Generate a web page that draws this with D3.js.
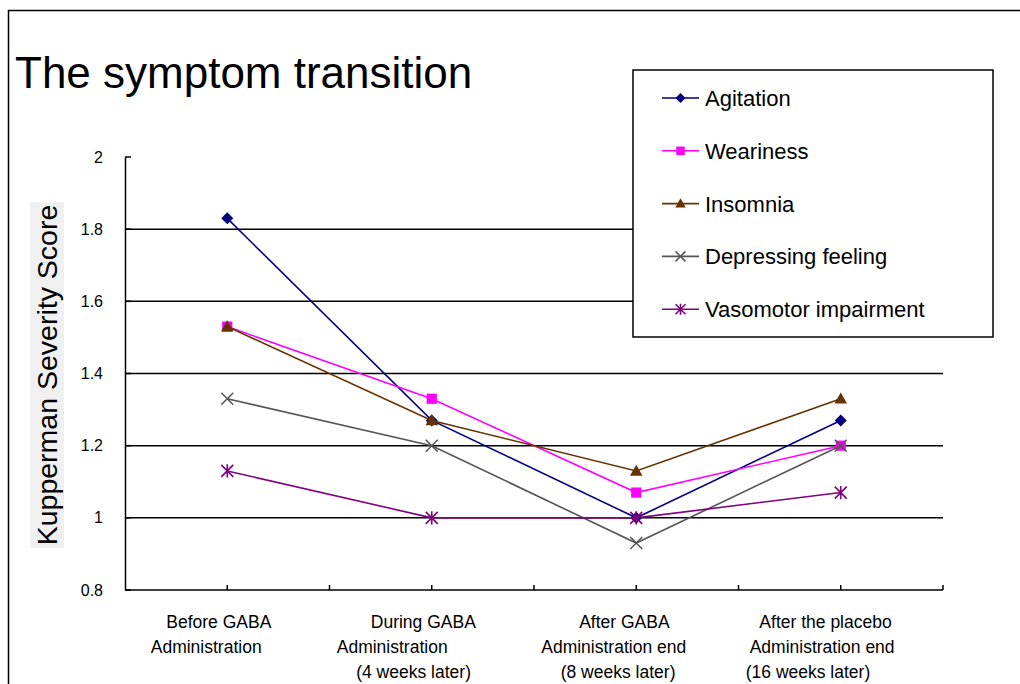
<!DOCTYPE html>
<html>
<head>
<meta charset="utf-8">
<script src="https://cdn.jsdelivr.net/npm/d3@7/dist/d3.min.js"></script>
<style>
  html, body { margin: 0; padding: 0; background: #fff; }
  svg { display: block; font-family: "Liberation Sans", Arial, sans-serif; }
</style>
</head>
<body>
<svg id="chart" width="1020" height="684"></svg>
<script>
// ---- data ----
const categories = ["Before GABA Administration", "During GABA Administration (4 weeks later)",
  "After GABA Administration end (8 weeks later)", "After the placebo Administration end (16 weeks later)"];
const categoryLines = [
  ["       Before GABA", "    Administration"],
  ["       During GABA", "Administration", "    (4 weeks later)"],
  ["        After GABA", "Administration end", "    (8 weeks later)"],
  ["   After the placebo", " Administration end", "(16 weeks later)"]
];
const seriesNames = ["Agitation", "Weariness", "Insomnia", "Depressing feeling", "Vasomotor impairment"];
const agitation  = [1.83, 1.27, 1.00, 1.27];
const weariness  = [1.53, 1.33, 1.07, 1.20];
const insomnia   = [1.53, 1.27, 1.13, 1.33];
const depressing = [1.33, 1.20, 0.93, 1.20];
const vasomotor  = [1.13, 1.00, 1.00, 1.07];
const yTicks = [0.8, 1, 1.2, 1.4, 1.6, 1.8, 2];
const yTickLabels = ["0.8", "1", "1.2", "1.4", "1.6", "1.8", "2"];

const seriesValues = [agitation, weariness, insomnia, depressing, vasomotor];
const colors = ["#000080", "#FF00FF", "#663300", "#555555", "#800080"];
const markers = ["diamond", "square", "triangle", "cross", "asterisk"];

// ---- layout ----
const svg = d3.select("#chart");
const pL = 125, pR = 943, pT = 157, pB = 590;

const x = d3.scaleBand().domain(d3.range(categories.length)).range([pL, pR]).padding(0);
const cx = i => x(i) + x.bandwidth() / 2;
const y = d3.scaleLinear().domain([0.8, 2]).range([pB, pT]);

// outer frame (top + left)
svg.append("path").attr("d", "M8.5,684 V10.5 H1020").attr("fill", "none")
  .attr("stroke", "#000").attr("stroke-width", 1.5);

// title
svg.append("text").attr("x", 15).attr("y", 88).attr("font-size", 44).attr("fill", "#000")
  .text("The symptom transition");

// gridlines
svg.append("g").selectAll("line").data(yTicks.filter(v => v > 0.8 && v < 2)).join("line")
  .attr("x1", pL).attr("x2", pR).attr("y1", d => y(d)).attr("y2", d => y(d))
  .attr("stroke", "#000").attr("stroke-width", 1.5);

// y axis
const yAxis = d3.axisLeft(y).tickValues(yTicks).tickFormat((d, i) => yTickLabels[i]).tickSize(0).tickPadding(22);
const gy = svg.append("g").attr("transform", `translate(${pL},0)`).call(yAxis);
gy.select(".domain").attr("stroke", "#000").attr("stroke-width", 1.5);
gy.selectAll("text").attr("font-size", 16).attr("fill", "#000").attr("font-family", "Liberation Sans, Arial, sans-serif");
// inner ticks on y
svg.append("g").selectAll("line").data(yTicks).join("line")
  .attr("x1", pL).attr("x2", pL + 6).attr("y1", d => y(d)).attr("y2", d => y(d))
  .attr("stroke", "#000").attr("stroke-width", 1.5);

// x axis
svg.append("line").attr("x1", pL).attr("x2", pR).attr("y1", pB).attr("y2", pB)
  .attr("stroke", "#000").attr("stroke-width", 1.5);
const xTickPos = [];
categories.forEach((c, i) => { xTickPos.push(cx(i)); xTickPos.push(x(i) + x.bandwidth()); });
svg.append("g").selectAll("line").data(xTickPos).join("line")
  .attr("x1", d => d).attr("x2", d => d).attr("y1", pB).attr("y2", pB - 5)
  .attr("stroke", "#000").attr("stroke-width", 1.5);

// category labels
const catG = svg.append("g");
categoryLines.forEach((lines, i) => {
  const t = catG.append("text").attr("font-size", 17.5).attr("fill", "#000")
    .attr("xml:space", "preserve").style("white-space", "pre");
  lines.forEach((ln, j) => {
    t.append("tspan").attr("x", cx(i) - 95).attr("y", 628 + j * 25).text(ln);
  });
});

// y axis title with light background
const yl = svg.append("g").attr("transform", "translate(57,375) rotate(-90)");
yl.append("rect").attr("x", -173).attr("y", -27).attr("width", 346).attr("height", 34).attr("fill", "#f0f0f0");
yl.append("text").attr("text-anchor", "middle").attr("font-size", 28.5).attr("fill", "#000")
  .text("Kupperman Severity Score");

// marker drawer
function drawMarker(g, type, color, px, py, s) {
  if (type === "diamond") {
    g.append("path").attr("d", `M${px},${py - s}L${px + s},${py}L${px},${py + s}L${px - s},${py}Z`).attr("fill", color);
  } else if (type === "square") {
    g.append("rect").attr("x", px - s * 0.85).attr("y", py - s * 0.85).attr("width", s * 1.7).attr("height", s * 1.7).attr("fill", color);
  } else if (type === "triangle") {
    g.append("path").attr("d", `M${px},${py - s * 1.05}L${px + s * 1.05},${py + s * 0.8}L${px - s * 1.05},${py + s * 0.8}Z`).attr("fill", color);
  } else if (type === "cross") {
    g.append("path").attr("d", `M${px - s},${py - s}L${px + s},${py + s}M${px - s},${py + s}L${px + s},${py - s}`)
      .attr("stroke", color).attr("stroke-width", 1.5);
  } else if (type === "asterisk") {
    g.append("path").attr("d", `M${px - s},${py - s}L${px + s},${py + s}M${px - s},${py + s}L${px + s},${py - s}M${px},${py - s * 1.1}L${px},${py + s * 1.1}`)
      .attr("stroke", color).attr("stroke-width", 1.6);
  }
}

// series
const line = d3.line().x((d, i) => cx(i)).y(d => y(d));
seriesValues.forEach((vals, k) => {
  const g = svg.append("g");
  g.append("path").datum(vals).attr("d", line).attr("fill", "none")
    .attr("stroke", colors[k]).attr("stroke-width", 1.6);
  vals.forEach((v, i) => drawMarker(g, markers[k], colors[k], cx(i), y(v), 6));
});

// legend
const lg = svg.append("g");
lg.append("rect").attr("x", 633).attr("y", 70).attr("width", 360).attr("height", 267)
  .attr("fill", "#fff").attr("stroke", "#000").attr("stroke-width", 1.5);
seriesNames.forEach((name, k) => {
  const ly = 98 + k * 52.8;
  lg.append("line").attr("x1", 662).attr("x2", 699).attr("y1", ly).attr("y2", ly)
    .attr("stroke", colors[k]).attr("stroke-width", 1.6);
  drawMarker(lg, markers[k], colors[k], 680.5, ly, 5);
  lg.append("text").attr("x", 705).attr("y", ly + 8).attr("font-size", 22).attr("fill", "#000").text(name);
});
</script>
</body>
</html>
